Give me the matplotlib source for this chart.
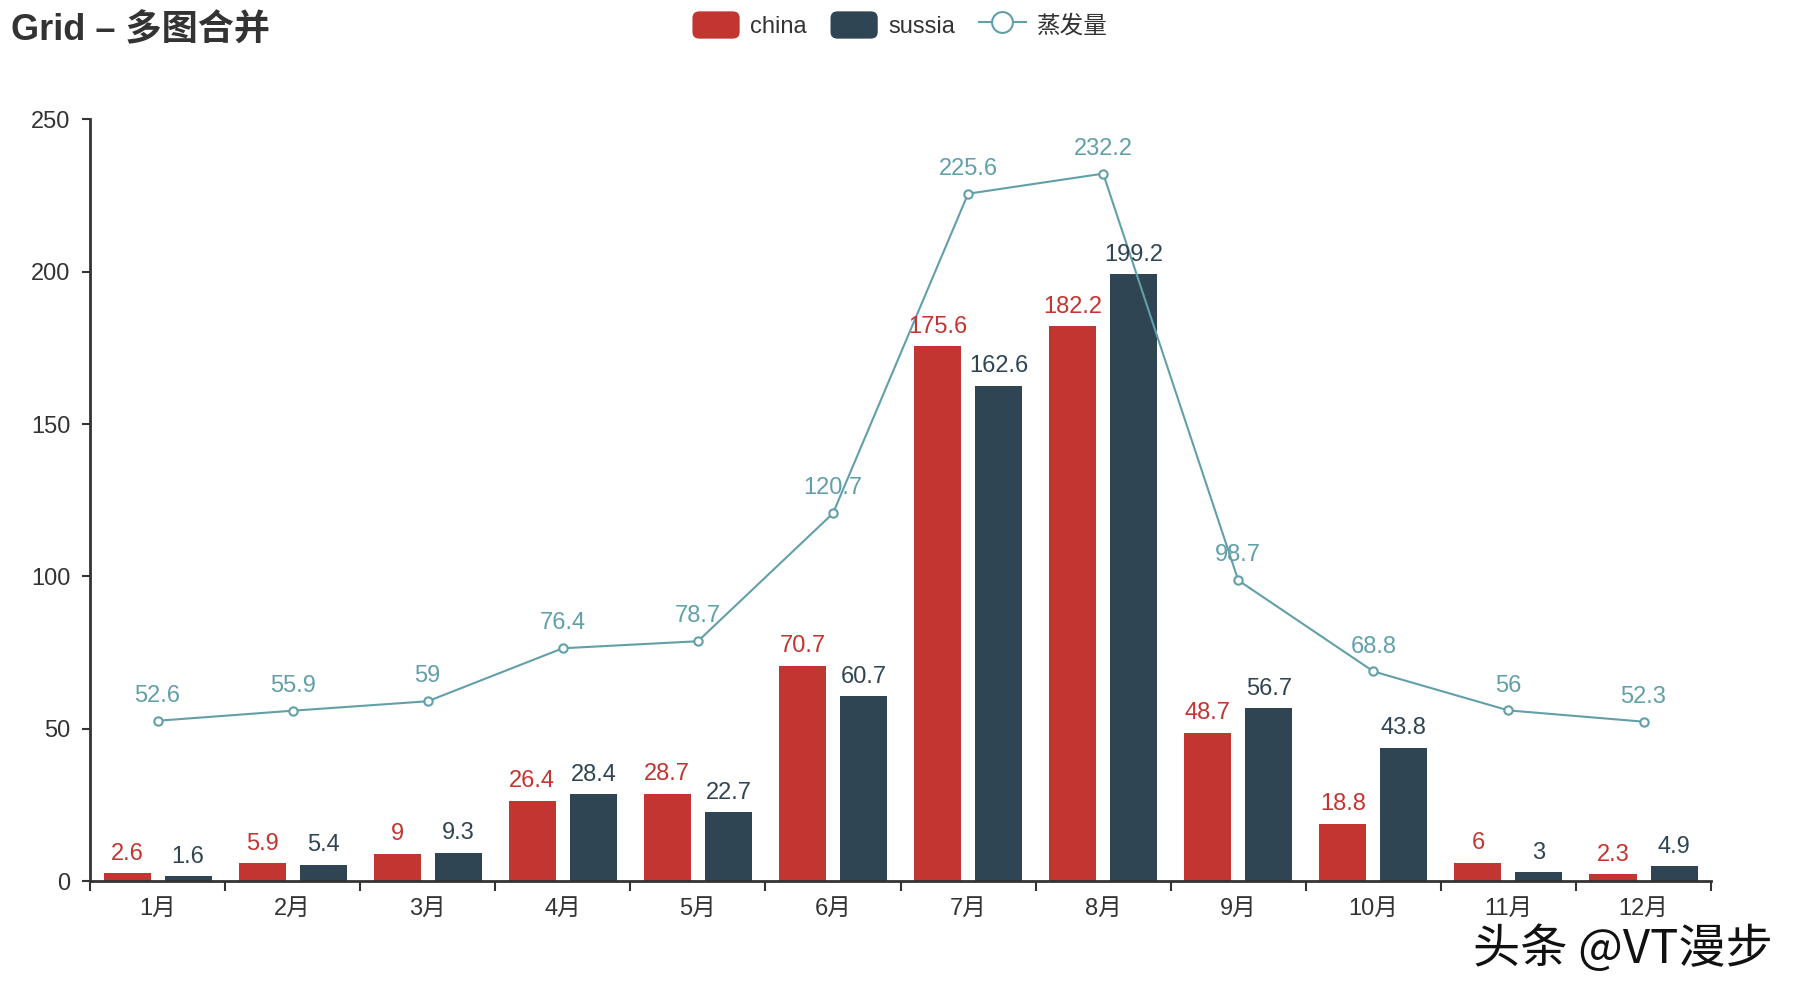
import numpy as np
import matplotlib
matplotlib.use("Agg")
import matplotlib.pyplot as plt
from matplotlib.patches import Patch, FancyBboxPatch
from matplotlib.lines import Line2D
from matplotlib.legend_handler import HandlerBase

plt.rcParams['font.family'] = ['Liberation Sans', 'Noto Sans CJK SC', 'DejaVu Sans']

months = ['1月', '2月', '3月', '4月', '5月', '6月', '7月', '8月', '9月', '10月', '11月', '12月']
china = [2.6, 5.9, 9, 26.4, 28.7, 70.7, 175.6, 182.2, 48.7, 18.8, 6, 2.3]
sussia = [1.6, 5.4, 9.3, 28.4, 22.7, 60.7, 162.6, 199.2, 56.7, 43.8, 3, 4.9]
evap = [52.6, 55.9, 59, 76.4, 78.7, 120.7, 225.6, 232.2, 98.7, 68.8, 56, 52.3]
yticks = [0, 50, 100, 150, 200, 250]

RED, NAVY, TEAL, INK = "#c23531", "#2f4554", "#61a0a8", "#333333"


def fmt(v):
    return f"{v:g}"


class RoundBox(HandlerBase):
    """legend swatch drawn as a rounded rectangle (echarts style)"""
    def create_artists(self, legend, orig, xdescent, ydescent, width, height,
                       fontsize, trans):
        p = FancyBboxPatch((-xdescent, -ydescent), width, height,
                           boxstyle=f"round,pad=0,rounding_size={height * 0.25}",
                           facecolor=orig.get_facecolor(), edgecolor="none",
                           transform=trans)
        return [p]


fig = plt.figure(figsize=(18, 10), dpi=100)
ax = fig.add_axes([0.05, 0.119, 0.9006, 0.7616])

x = np.arange(len(months))
w = 0.348
off = 0.226
b1 = ax.bar(x - off, china, w, color=RED, zorder=2)
b2 = ax.bar(x + off, sussia, w, color=NAVY, zorder=2)

for rect, v in zip(b1, china):
    ax.annotate(fmt(v), (rect.get_x() + rect.get_width() / 2, v), xytext=(0, 6),
                textcoords="offset points", ha="center", va="bottom",
                fontsize=17, color=RED, zorder=5)
for rect, v in zip(b2, sussia):
    ax.annotate(fmt(v), (rect.get_x() + rect.get_width() / 2, v), xytext=(0, 6),
                textcoords="offset points", ha="center", va="bottom",
                fontsize=17, color=NAVY, zorder=5)

ax.plot(x, evap, color=TEAL, lw=1.5, marker="o", ms=6, mfc="white",
        mec=TEAL, mew=1.5, zorder=4)
for xi, v in zip(x, evap):
    ax.annotate(fmt(v), (xi, v), xytext=(0, 10), textcoords="offset points",
                ha="center", va="bottom", fontsize=17, color=TEAL, zorder=6)

ax.set_xlim(-0.5, len(months) - 0.5)
ax.set_ylim(0, 250)
ax.set_yticks(yticks)
ax.tick_params(axis="y", labelsize=17, colors=INK, length=6, width=1.5, pad=8)

# ticks on category boundaries, labels at centres
ax.set_xticks(np.arange(-0.5, len(months)), minor=False)
ax.set_xticklabels([])
ax.set_xticks(x, minor=True)
ax.set_xticklabels(months, minor=True)
ax.tick_params(axis="x", which="major", length=7, width=1.5, colors=INK)
ax.tick_params(axis="x", which="minor", length=0, labelsize=17, colors=INK, pad=12)

for s in ("top", "right"):
    ax.spines[s].set_visible(False)
for s in ("left", "bottom"):
    ax.spines[s].set_color(INK)
    ax.spines[s].set_linewidth(2)

fig.text(0.006, 0.969, "Grid – 多图合并", fontsize=26, fontweight="bold",
         color=INK, ha="left", va="center")

h_red = Patch(facecolor=RED, label="china")
h_navy = Patch(facecolor=NAVY, label="sussia")
h_line = Line2D([0], [0], color=TEAL, lw=1.5, marker="o", ms=15, mfc="white",
                mec=TEAL, mew=1.5, label="蒸发量")
fig.legend(handles=[h_red, h_navy, h_line], loc="center", bbox_to_anchor=(0.5, 0.975),
           ncol=3, frameon=False, fontsize=17, handlelength=2.0, handleheight=1.4,
           columnspacing=1.0, handletextpad=0.45, labelcolor=INK,
           handler_map={h_red: RoundBox(), h_navy: RoundBox()})

fig.text(0.985, 0.05, "头条 @VT漫步", fontsize=34, color="#111111", fontweight="light",
         ha="right", va="center", family=["Noto Sans CJK SC", "DejaVu Sans"])

fig.savefig("out.png", dpi=100, facecolor="white")
